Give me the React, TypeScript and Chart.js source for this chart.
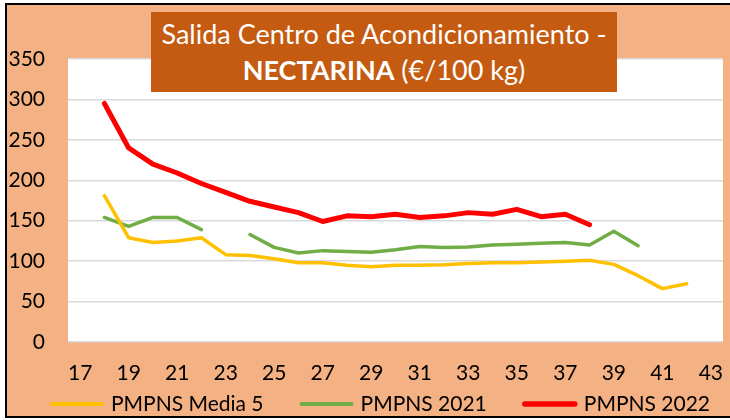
import React, { useEffect, useRef } from 'react';
import { Chart, registerables } from 'chart.js';
Chart.register(...registerables);

const weeks = ['17','18','19','20','21','22','23','24','25','26','27','28','29','30','31','32','33','34','35','36','37','38','39','40','41','42','43'];
const media5 = [null,181,129,123,125,129,108,107,103,98,98,95,93,95,95,95.5,97,98,98,99,100,101,96,82,66,72,null];
const y2021 = [null,154,143,154,154,139,null,133,117,110,113,112,111,114,118,117,117.5,120,121,122,123,120,137,119,null,null,null];
const y2022 = [null,295,240,220,209,196,185,174,167,160,149,156,155,158,154,156,160,158,164,155,158,145,null,null,null,null,null];
const seriesNames = ['PMPNS Media 5', 'PMPNS 2021', 'PMPNS 2022'];

const FONT = 'Lato, "Open Sans", sans-serif';

export default function App() {
  const ref = useRef<HTMLCanvasElement>(null);
  useEffect(() => {
    const bg = {
      id: 'plotBg',
      beforeDraw(chart: any) {
        const { ctx, chartArea: a } = chart;
        ctx.save();
        ctx.fillStyle = '#ffffff';
        ctx.fillRect(a.left, a.top, a.right - a.left, a.bottom - a.top);
        ctx.restore();
      },
    };
    const legendPlugin = {
      id: 'spacedLegend',
      afterDraw(chart: any) {
        const ctx = chart.ctx;
        ctx.save();
        ctx.font = `21px ${FONT}`;
        const items = chart.data.datasets.map((ds: any) => ({
          label: ds.label,
          color: ds.borderColor,
          lw: ds.borderWidth,
          tw: ctx.measureText(ds.label).width,
        }));
        const SW = 54, GAP_T = 7, GAP_I = 36;
        const total = items.reduce((s: number, it: any) => s + SW + GAP_T + it.tw, 0) + GAP_I * (items.length - 1);
        let x = 380 - total / 2;
        const y = 404;
        items.forEach((it: any) => {
          ctx.strokeStyle = it.color;
          ctx.lineWidth = it.lw + 0.5;
          ctx.lineCap = 'round';
          ctx.beginPath();
          ctx.moveTo(x + 2, y);
          ctx.lineTo(x + SW - 2, y);
          ctx.stroke();
          ctx.fillStyle = '#000';
          ctx.textBaseline = 'alphabetic';
          ctx.textAlign = 'left';
          ctx.fillText(it.label, x + SW + GAP_T, y + 7);
          x += SW + GAP_T + it.tw + GAP_I;
        });
        ctx.restore();
      },
    };
    const chart = new Chart(ref.current as HTMLCanvasElement, {
      type: 'line',
      data: {
        labels: weeks,
        datasets: [
          { label: seriesNames[0], data: media5, borderColor: '#FFC000', backgroundColor: '#FFC000', borderWidth: 3.5, pointRadius: 0, borderCapStyle: 'round', borderJoinStyle: 'round' },
          { label: seriesNames[1], data: y2021, borderColor: '#70AD47', backgroundColor: '#70AD47', borderWidth: 3.5, pointRadius: 0, borderCapStyle: 'round', borderJoinStyle: 'round' },
          { label: seriesNames[2], data: y2022, borderColor: '#FF0000', backgroundColor: '#FF0000', borderWidth: 5, pointRadius: 0, borderCapStyle: 'round', borderJoinStyle: 'round' },
        ],
      },
      options: {
        responsive: false,
        animation: false,
        layout: { padding: { left: 0, right: 7, top: 59, bottom: 38 } },
        scales: {
          x: {
            offset: true,
            grid: { display: false, drawTicks: false },
            border: { display: false },
            ticks: {
              autoSkip: false,
              maxRotation: 0,
              padding: 19,
              color: '#000',
              font: { family: FONT, size: 21 },
              callback: (_v: any, i: number) => (i % 2 === 0 ? weeks[i] : ''),
            },
            afterFit: (s: any) => { s.height = 40; s.paddingLeft = 0; s.paddingRight = 0; },
          },
          y: {
            min: 0,
            max: 350,
            ticks: { stepSize: 50, padding: 23, color: '#000', font: { family: FONT, size: 21 } },
            grid: { color: '#D9D9D9', lineWidth: 1.5, drawTicks: false },
            border: { display: false },
            afterFit: (s: any) => { s.width = 68; },
          },
        },
        plugins: {
          legend: { display: false },
          tooltip: { enabled: false },
          title: { display: false },
        },
      } as any,
      plugins: [bg, legendPlugin],
    });
    return () => chart.destroy();
  }, []);

  return (
    <div style={{ position: 'absolute', left: 0, top: 0, width: 730, height: 420, background: '#ffffff', overflow: 'hidden' }}>
      <div style={{ position: 'absolute', left: 5, top: 3, width: 725, height: 415, background: '#F4B183', borderTop: '2px solid #000', borderLeft: '2px solid #000', borderBottom: '2px solid #000', boxSizing: 'border-box' }} />
      <canvas ref={ref} width={730} height={420} style={{ position: 'absolute', left: 0, top: 0, width: 730, height: 420 }} />
      <div style={{ position: 'absolute', left: 151, top: 12, width: 466, height: 80, background: '#C55A11', color: '#fff', fontFamily: FONT, fontSize: 27, lineHeight: '36px', textAlign: 'center', paddingTop: 4, boxSizing: 'border-box', whiteSpace: 'nowrap' }}>
        <div>Salida Centro de Acondicionamiento -</div>
        <div><b>NECTARINA</b> (€/100 kg)</div>
      </div>
    </div>
  );
}
